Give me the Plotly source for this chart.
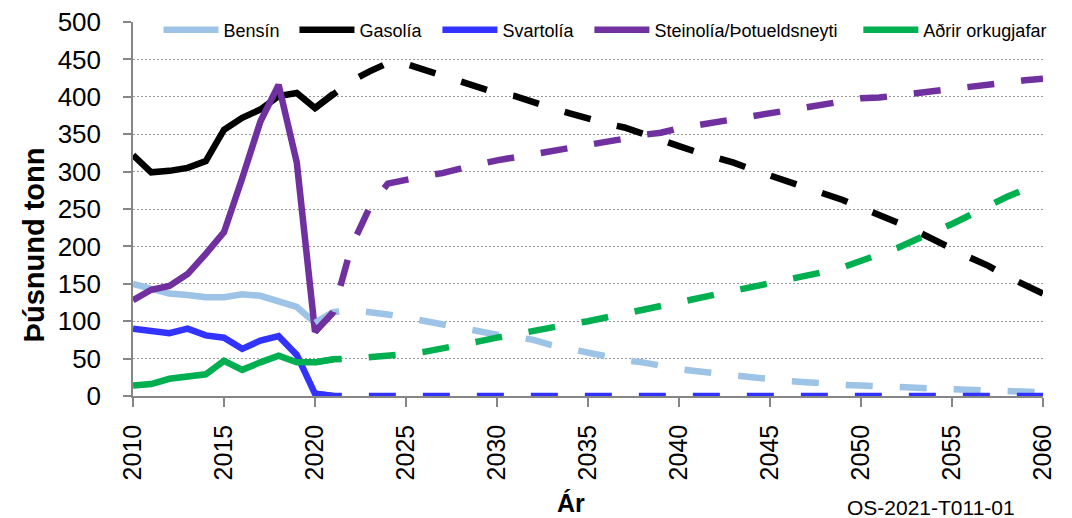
import plotly.graph_objects as go

# ---------------- data ----------------
hist_years = list(range(2010, 2022))
fc_years = list(range(2020, 2061))

bensin_hist = [150, 143, 137, 135, 132, 132, 136, 134, 127, 119, 98, 112]
gasolia_hist = [322, 299, 301, 305, 314, 356, 372, 383, 401, 405, 385, 404]
svartolia_hist = [90, 88, 84, 90, 81, 78, 63, 74, 80, 55, 3, 0]
steinolia_hist = [128, 142, 147, 163, 190, 219, 291, 367, 416, 312, 86, 112]
adrir_hist = [14, 16, 23, 27, 29, 47, 35, 45, 54, 45, 45, 49]

bensin_fc = [98, 112, 115, 113, 109, 105, 100, 95, 91, 86, 82, 79, 75, 68, 63, 59,
             52, 48, 45, 40, 36, 33, 30, 28, 26, 23, 20, 18.5, 16, 15, 14, 12.5,
             12, 11.5, 10, 9, 8.5, 7, 6, 5.5, 5]
gasolia_fc = [385, 404, 421, 434, 445, 444, 436, 427, 419, 412, 405, 401, 392, 385,
              378, 370, 364, 359, 350, 343, 334, 326, 320, 312, 303, 295, 287, 279,
              271, 262, 252, 243, 232, 221, 210, 197, 185, 174, 160, 149, 137]
svartolia_fc = [3, 0, 0, 0, 0, 0, 0, 0, 0, 0, 0, 0, 0, 0, 0, 0, 0, 0, 0, 0, 0, 0,
                0, 0, 0, 0, 0, 0, 0, 0, 0, 0, 0, 0, 0, 0, 0, 0, 0, 0, 0]
steinolia_fc = [86, 112, 200, 252, 284, 290, 294, 298, 305, 310, 315, 319, 323, 326,
                332, 336, 339, 344, 349, 352, 358, 362, 365, 370, 374, 377, 381, 386,
                389, 393, 398, 399, 402, 406, 409, 412, 415, 417, 420, 422, 424]
adrir_fc = [45, 49, 50, 51.5, 54, 56, 59, 63, 68, 73, 78, 83, 88, 91, 96, 100, 105,
            110, 115, 120, 125, 130, 134, 139, 144, 149, 154, 159, 166, 172, 180,
            189, 198, 209, 219, 230, 242, 255, 266, 276, 286]

names = ["Bensín", "Gasolía", "Svartolía", "Steinolía/Þotueldsneyti", "Aðrir orkugjafar"]
colors = ["#9DC3E6", "#000000", "#3333FF", "#7030A0", "#00B050"]
hist_series = [bensin_hist, gasolia_hist, svartolia_hist, steinolia_hist, adrir_hist]
fc_series = [bensin_fc, gasolia_fc, svartolia_fc, steinolia_fc, adrir_fc]

y_ticks = list(range(0, 501, 50))
grid_ticks = list(range(50, 451, 50))
x_ticks = list(range(2010, 2061, 5))

y_title = "Þúsnund tonn"
x_title = "Ár"
source_note = "OS-2021-T011-01"

# ---------------- figure ----------------
FONT = "Arial, 'Liberation Sans', sans-serif"
# the page body has an 8px margin, so the figure sits at (8, 8) in the window
OFF = 8
WIN_W, WIN_H = 1072, 518
W, H = WIN_W - OFF, WIN_H - OFF
# plot area in window pixels
PL, PR, PT, PB = 132.5, 1042.7, 21.5, 395.7
L = PL - OFF
T = PT - OFF
R = WIN_W - PR
B = WIN_H - PB
pw = PR - PL
ph = PB - PT


def px_x(p):
    return (p - PL) / pw


def px_y(p):
    return (PB - p) / ph


fig = go.Figure()

legend_keys = ["legend", "legend2", "legend3", "legend4", "legend5"]
legend_line_start = [160, 296, 439, 591, 860]

for i in range(5):
    fig.add_trace(go.Scatter(
        x=hist_years, y=hist_series[i], mode="lines", name=names[i],
        line=dict(color=colors[i], width=6.5), legend=legend_keys[i],
        showlegend=True))

for i in range(5):
    fig.add_trace(go.Scatter(
        x=fc_years, y=fc_series[i], mode="lines", name=names[i] + " spá",
        line=dict(color=colors[i], width=6.5, dash="27px,27px"),
        showlegend=False))

# invisible trace on yaxis2 to carry the gridlines
fig.add_trace(go.Scatter(x=[2010], y=[0], yaxis="y2", mode="markers",
                         marker=dict(opacity=0), showlegend=False,
                         hoverinfo="skip"))

layout_legends = {}
for i, key in enumerate(legend_keys):
    layout_legends[key] = dict(
        x=px_x(legend_line_start[i] - 2), xanchor="left",
        y=px_y(29.5), yanchor="middle",
        orientation="h", bgcolor="rgba(0,0,0,0)", borderwidth=0,
        font=dict(family=FONT, size=18, color="#000000"),
        itemwidth=55)

fig.update_layout(
    width=W, height=H,
    margin=dict(l=L, r=R, t=T, b=B, autoexpand=False),
    plot_bgcolor="white", paper_bgcolor="white",
    font=dict(family=FONT, color="#000000"),
    xaxis=dict(
        range=[2010, 2060], tickvals=x_ticks, ticktext=[str(v) for v in x_ticks],
        tickangle=-90, tickfont=dict(size=25), ticks="outside", ticklen=9,
        tickcolor="#868686", tickwidth=1.5, showline=True, linecolor="#868686",
        linewidth=1.5, showgrid=False, zeroline=False, automargin=False,
        ticklabeloverflow="allow", ticklabelstandoff=8,
    ),
    yaxis=dict(
        range=[0, 500], tickvals=y_ticks, tickfont=dict(size=26),
        ticks="outside", ticklen=8, tickcolor="#868686", tickwidth=1.5,
        showline=True, linecolor="#868686", linewidth=1.5, showgrid=False,
        zeroline=False, automargin=False, ticklabeloverflow="allow",
        ticklabelstandoff=17,
    ),
    yaxis2=dict(
        range=[0, 500], overlaying="y", tickvals=grid_ticks,
        showticklabels=False, ticks="", showline=False, zeroline=False,
        showgrid=True, gridcolor="#9a9a9a", gridwidth=1, griddash="2px,2px",
        layer="below traces",
    ),
    showlegend=True,
    **layout_legends,
)

fig.add_annotation(
    text="<b>" + y_title + "</b>", xref="paper", yref="paper",
    x=px_x(33.5), y=px_y(245), xanchor="center", yanchor="middle",
    textangle=-90, showarrow=False, font=dict(family=FONT, size=29, color="#000"))
fig.add_annotation(
    text="<b>" + x_title + "</b>", xref="paper", yref="paper",
    x=px_x(571), y=px_y(503), xanchor="center", yanchor="middle",
    showarrow=False, font=dict(family=FONT, size=25, color="#000"))
fig.add_annotation(
    text=source_note, xref="paper", yref="paper",
    x=px_x(931), y=px_y(507), xanchor="center", yanchor="middle",
    showarrow=False, font=dict(family=FONT, size=21, color="#000"))

fig.write_html("out.html")
